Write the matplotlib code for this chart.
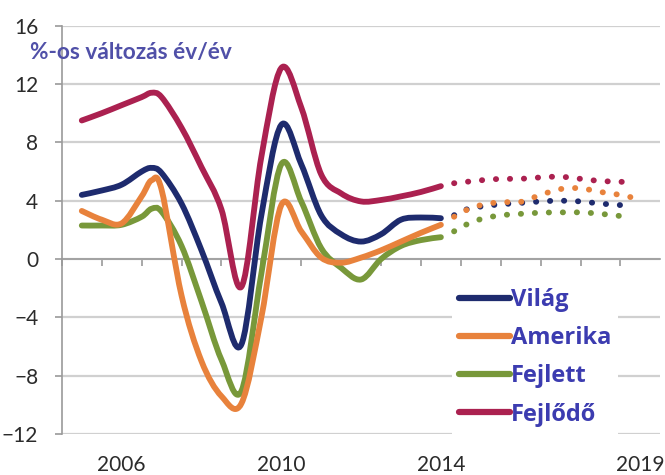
import matplotlib
matplotlib.use("Agg")
import matplotlib.pyplot as plt
from matplotlib.path import Path
from matplotlib.patches import PathPatch
from matplotlib.lines import Line2D

plt.rcParams['font.family'] = ['Lato', 'DejaVu Sans']

# actual data
years = [2005.0, 2005.5, 2006.0, 2006.5, 2006.75, 2007.0, 2007.5, 2008.0, 2008.5,
         2009.0, 2009.5, 2010.0, 2010.5, 2011.0, 2011.5, 2012.0, 2012.5,
         2013.0, 2013.5, 2014.0]
vilag = [4.4, 4.7, 5.1, 6.0, 6.25, 5.9, 3.8, 0.6, -3.0,
         -5.85, 3.0, 9.2, 6.5, 3.0, 1.7, 1.2, 1.7,
         2.7, 2.85, 2.8]
amerika = [3.3, 2.7, 2.45, 4.3, 5.4, 4.75, -2.5, -7.0, -9.4,
           -9.9, -4.0, 3.7, 1.9, 0.1, -0.25, 0.1, 0.6,
           1.2, 1.8, 2.35]
fejlett = [2.3, 2.3, 2.35, 2.9, 3.45, 3.25, 0.9, -2.9, -6.9,
           -9.05, -1.0, 6.5, 3.95, 0.75, -0.6, -1.4, 0.0,
           0.9, 1.3, 1.5]
fejlodo = [9.5, 10.0, 10.55, 11.1, 11.4, 11.1, 9.0, 6.3, 3.4,
           -1.9, 7.0, 13.1, 10.4, 5.8, 4.5, 3.95, 4.05,
           4.3, 4.6, 5.0]

# forecast (dotted)
proj_years = [2014.33, 2014.5, 2015.0, 2015.5, 2016.0, 2016.5, 2017.0,
              2017.5, 2018.0, 2018.5, 2018.75]
vilag_p = [3.0, 3.3, 3.6, 3.75, 3.85, 3.95, 4.0, 3.95, 3.8, 3.7, 3.6]
amerika_p = [2.9, 3.2, 3.7, 3.9, 3.92, 4.4, 4.8, 4.85, 4.6, 4.4, 4.25]
fejlett_p = [1.9, 2.2, 2.74, 3.0, 3.1, 3.18, 3.2, 3.2, 3.1, 2.95, 2.8]
fejlodo_p = [5.2, 5.25, 5.4, 5.5, 5.5, 5.6, 5.65, 5.5, 5.35, 5.3, 5.25]

labels = ['Világ', 'Amerika', 'Fejlett', 'Fejlődő']
colors = ['#1e2b6e', '#e8823c', '#78983a', '#ab2150']
year_labels = [2006, 2010, 2014, 2019]


def smooth_path(xs, ys):
    # smoothed line through the points (like Excel "smoothed line")
    pts = list(zip(xs, ys))
    n = len(pts)
    verts = [pts[0]]
    codes = [Path.MOVETO]
    for i in range(n - 1):
        p0 = pts[max(i - 1, 0)]
        p1 = pts[i]
        p2 = pts[i + 1]
        p3 = pts[min(i + 2, n - 1)]
        c1 = (p1[0] + (p2[0] - p0[0]) / 6, p1[1] + (p2[1] - p0[1]) / 6)
        c2 = (p2[0] - (p3[0] - p1[0]) / 6, p2[1] - (p3[1] - p1[1]) / 6)
        verts += [c1, c2, p2]
        codes += [Path.CURVE4] * 3
    return Path(verts, codes)


fig = plt.figure(figsize=(6.65, 4.75), dpi=100)
ax = fig.add_axes([0.093, 0.086, 0.9, 0.86])

actual = [vilag, amerika, fejlett, fejlodo]
proj = [vilag_p, amerika_p, fejlett_p, fejlodo_p]
for i in [3, 0, 2, 1]:
    ax.add_patch(PathPatch(smooth_path(years, actual[i]), fill=False,
                           edgecolor=colors[i], lw=4.2, capstyle='round',
                           joinstyle='round', zorder=3))
    ax.add_patch(PathPatch(smooth_path(proj_years, proj[i]), fill=False,
                           edgecolor=colors[i], lw=4.2, capstyle='round',
                           linestyle=(0, (0.05, 2.35)), zorder=3))

ax.set_xlim(2004.5, 2019.5)
ax.set_ylim(-12, 16)
ax.set_yticks(range(-12, 17, 4))
ax.yaxis.grid(True, color='#d0d0d0', lw=1.6)
ax.set_axisbelow(True)

for s in ['top', 'right']:
    ax.spines[s].set_visible(False)
ax.spines['left'].set_color('#9a9a9a')
ax.spines['left'].set_linewidth(1.2)
ax.spines['bottom'].set_position(('data', 0))
ax.spines['bottom'].set_color('#9a9a9a')
ax.spines['bottom'].set_linewidth(1.2)

ax.set_xticks([y + 0.5 for y in range(2004, 2019)])
ax.set_xticklabels([])
ax.tick_params(axis='x', length=5, color='#9a9a9a', width=1.2)
ax.tick_params(axis='y', length=5, color='#9a9a9a', width=1.2, pad=12,
               labelsize=15, labelcolor='#2b2b2b')

sec = ax.secondary_xaxis('bottom')
sec.set_xticks(year_labels)
sec.set_xticklabels([str(y) for y in year_labels])
sec.tick_params(length=0, pad=15, labelsize=15, labelcolor='#2b2b2b')
sec.spines['bottom'].set_visible(False)

fig.text(0.045, 0.89, '%-os változás év/év', color='#5050a8', fontsize=16.3,
         fontweight='bold', ha='left', va='center')

handles = [Line2D([], [], color=c, lw=4.5, solid_capstyle='round') for c in colors]
leg = ax.legend(handles, labels, loc='upper left', bbox_to_anchor=(0.632, 0.404),
                frameon=True, fancybox=False, framealpha=1,
                edgecolor='none', facecolor='white',
                handlelength=2.15, handletextpad=0.05, labelspacing=0.6,
                borderpad=0.3,
                prop={'family': 'Open Sans', 'size': 17, 'weight': 'bold'},
                labelcolor='#3c3cb0')
leg.set_zorder(5)

fig.savefig('out.png', dpi=100)
